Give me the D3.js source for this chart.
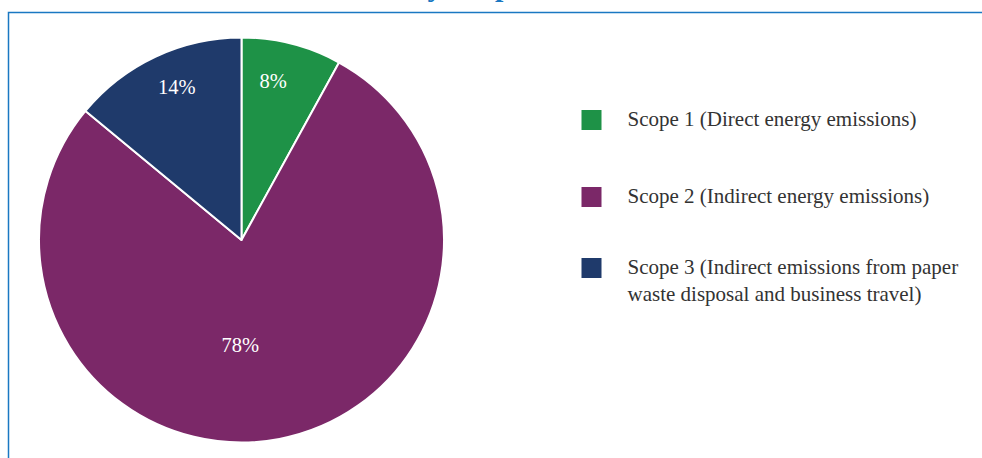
<!DOCTYPE html>
<html>
<head>
<meta charset="utf-8">
<script src="https://cdn.jsdelivr.net/npm/d3@7"></script>
<style>
  body { margin: 0; background: #fff; }
  svg { display: block; }
</style>
</head>
<body>
<svg id="chart"></svg>
<script>
// emissions by scope, share of total (%)
var scopes = ["Scope 1", "Scope 2", "Scope 3"]
var shares = [8, 78, 14]
var legendLines = [
    ["Scope 1 (Direct energy emissions)"],
    ["Scope 2 (Indirect energy emissions)"],
    ["Scope 3 (Indirect emissions from paper", "waste disposal and business travel)"]
]
var colours = ["#1e9247", "#7b2868", "#1f3a6b"]
var title = "Greenhouse Gas Emissions by Scope"

var width = 982, height = 458
var svg = d3.select("#chart").attr("width", width).attr("height", height)
var serif = "'Liberation Serif', 'Times New Roman', serif"

// frame round the chart (top and left edges show)
svg.append("path")
    .attr("d", "M8.5," + height + "V12.5H" + width)
    .attr("fill", "none")
    .attr("stroke", "#1a78c2")
    .attr("stroke-width", 1.5)

// title sits mostly above the visible area, only descenders peek in
var t = svg.append("text")
    .attr("y", -4)
    .attr("font-family", serif)
    .attr("font-weight", "bold")
    .attr("font-size", 30)
    .attr("fill", "#1a78c2")
    .text(title)
var yIdx = title.indexOf("by") + 1
var yPos = t.node().getSubStringLength(0, yIdx) + t.node().getSubStringLength(yIdx, 1) / 2
t.attr("x", 435 - yPos)

// pie
var cx = 241.5, cy = 240, radius = 202.5
var pie = d3.pie().sort(null).value(function(d) { return d })
var arcs = pie(shares)
var arc = d3.arc().innerRadius(0).outerRadius(radius)

var g = svg.append("g").attr("transform", "translate(" + cx + "," + cy + ")")
g.selectAll("path.slice")
    .data(arcs)
    .enter().append("path")
    .attr("class", "slice")
    .attr("d", arc)
    .attr("fill", function(d, i) { return colours[i] })
    .attr("stroke", "#fff")
    .attr("stroke-width", 2)
    .attr("stroke-linejoin", "round")

// label placement: radius fraction and angle nudge per slice
var labelR = [0.80, 0.52, 0.82]
var labelNudge = [-0.055, 0.2, 0.04]
g.selectAll("text.pct")
    .data(arcs)
    .enter().append("text")
    .attr("class", "pct")
    .attr("transform", function(d, i) {
        var a = (d.startAngle + d.endAngle) / 2 + labelNudge[i]
        var r = radius * labelR[i]
        return "translate(" + (r * Math.sin(a)) + "," + (-r * Math.cos(a)) + ")"
    })
    .attr("text-anchor", "middle")
    .attr("dy", "0.35em")
    .attr("font-family", serif)
    .attr("font-size", 20.5)
    .attr("fill", "#fff")
    .text(function(d) { return d.data + "%" })

// legend, entry centres follow the uneven spacing of the original
var legendCentres = [120, 197, 268]
var leg = svg.append("g")
    .selectAll("g")
    .data(scopes)
    .enter().append("g")
    .attr("transform", function(d, i) { return "translate(581.5," + legendCentres[i] + ")" })
leg.append("rect")
    .attr("x", 0).attr("y", -10)
    .attr("width", 20).attr("height", 20)
    .attr("fill", function(d, i) { return colours[i] })
leg.append("text")
    .attr("font-family", serif)
    .attr("font-size", 21)
    .attr("fill", "#333")
    .selectAll("tspan")
    .data(function(d, i) { return legendLines[i] })
    .enter().append("tspan")
    .attr("x", 46)
    .attr("y", function(d, j) { return 6 + j * 27 })
    .text(function(d) { return d })
</script>
</body>
</html>
